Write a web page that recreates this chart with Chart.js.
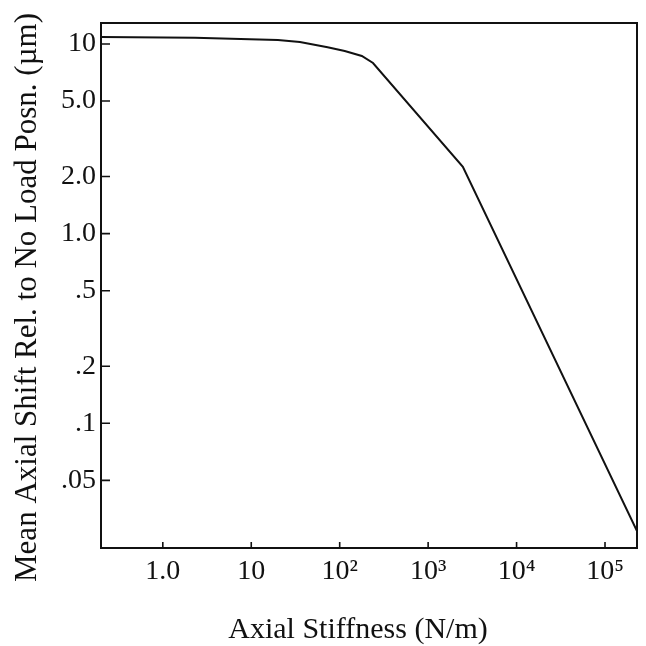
<!DOCTYPE html>
<html>
<head>
<meta charset="utf-8">
<script src="https://cdn.jsdelivr.net/npm/chart.js@4/dist/chart.umd.min.js"></script>
<style>
html,body{margin:0;padding:0;background:#fff;}
canvas{display:block;}
</style>
</head>
<body>
<canvas id="c" width="646" height="646"></canvas>
<script>
// Data (log-log)
const stiffness = [0.2, 2.3, 9.6, 20, 35.5, 73, 114, 178, 238, 2470, 230000];
const shift     = [10.9, 10.8, 10.6, 10.5, 10.25, 9.6, 9.19, 8.65, 7.94, 2.25, 0.027];

const xTickValues = [1, 10, 100, 1000, 10000, 100000];
const xTickLabels = ['1.0', '10', '10\u00B2', '10\u00B3', '10\u2074', '10\u2075'];
const yTickValues = [10, 5, 2, 1, 0.5, 0.2, 0.1, 0.05];
const yTickLabels = ['10', '5.0', '2.0', '1.0', '.5', '.2', '.1', '.05'];

const xTitle = 'Axial Stiffness (N/m)';
const yTitle = 'Mean Axial Shift Rel. to No Load Posn. (\u00B5m)';

const FONT = "'Liberation Serif', 'Times New Roman', serif";

const points = stiffness.map((x, i) => ({x: x, y: shift[i]}));

// shift an axis title by (dx, dy) pixels
function shiftTitle(scale, dx, dy) {
  if (scale._titleShifted) return;
  const base = Object.getPrototypeOf(scale).drawTitle;
  scale.drawTitle = function () {
    this.ctx.save();
    this.ctx.translate(dx, dy);
    base.call(this);
    this.ctx.restore();
  };
  scale._titleShifted = true;
}

const frameAndTicks = {
  id: 'frameAndTicks',
  afterDraw(chart) {
    const {ctx, chartArea: a, scales} = chart;
    ctx.save();
    ctx.strokeStyle = '#111';
    ctx.lineWidth = 2;
    ctx.strokeRect(a.left, a.top, a.right - a.left, a.bottom - a.top);
    ctx.lineWidth = 1.6;
    ctx.beginPath();
    scales.x.ticks.forEach(t => {
      const px = scales.x.getPixelForValue(t.value);
      ctx.moveTo(px, a.bottom);
      ctx.lineTo(px, a.bottom - 6);
    });
    scales.y.ticks.forEach(t => {
      const py = scales.y.getPixelForValue(t.value);
      ctx.moveTo(a.left, py);
      ctx.lineTo(a.left + 9, py);
    });
    ctx.stroke();
    ctx.restore();
  }
};

new Chart(document.getElementById('c'), {
  type: 'line',
  data: {
    datasets: [{
      data: points,
      borderColor: '#111',
      borderWidth: 2,
      pointRadius: 0,
      tension: 0,
      fill: false
    }]
  },
  options: {
    responsive: false,
    animation: false,
    devicePixelRatio: 1,
    layout: {padding: {top: 23, right: 9, left: 0, bottom: 0}},
    plugins: {legend: {display: false}, tooltip: {enabled: false}},
    scales: {
      x: {
        type: 'logarithmic',
        min: 0.2,
        max: 230000,
        afterBuildTicks: s => { s.ticks = xTickValues.map(v => ({value: v})); },
        afterFit: s => { s.height = 98; shiftTitle(s, -11, 2); },
        grid: {display: false, drawTicks: false},
        border: {display: false},
        ticks: {
          autoSkip: false,
          maxRotation: 0,
          padding: 7,
          color: '#111',
          font: {family: FONT, size: 28},
          callback: (v) => { const i = xTickValues.indexOf(v); return i >= 0 ? xTickLabels[i] : ''; }
        },
        title: {
          display: true,
          text: xTitle,
          color: '#111',
          font: {family: FONT, size: 30},
          padding: {top: 0, bottom: 0}
        }
      },
      y: {
        type: 'logarithmic',
        min: 0.022,
        max: 12.9,
        afterBuildTicks: s => { s.ticks = yTickValues.map(v => ({value: v})); },
        afterFit: s => { s.width = 101; shiftTitle(s, 0, 12); },
        grid: {display: false, drawTicks: false},
        border: {display: false},
        ticks: {
          autoSkip: false,
          padding: 5,
          color: '#111',
          font: {family: FONT, size: 28},
          callback: (v) => { const i = yTickValues.indexOf(v); return i >= 0 ? yTickLabels[i] : ''; }
        },
        title: {
          display: true,
          text: yTitle,
          color: '#111',
          font: {family: FONT, size: 31},
          padding: {top: 9, bottom: 0}
        }
      }
    }
  },
  plugins: [frameAndTicks]
});
</script>
</body>
</html>
